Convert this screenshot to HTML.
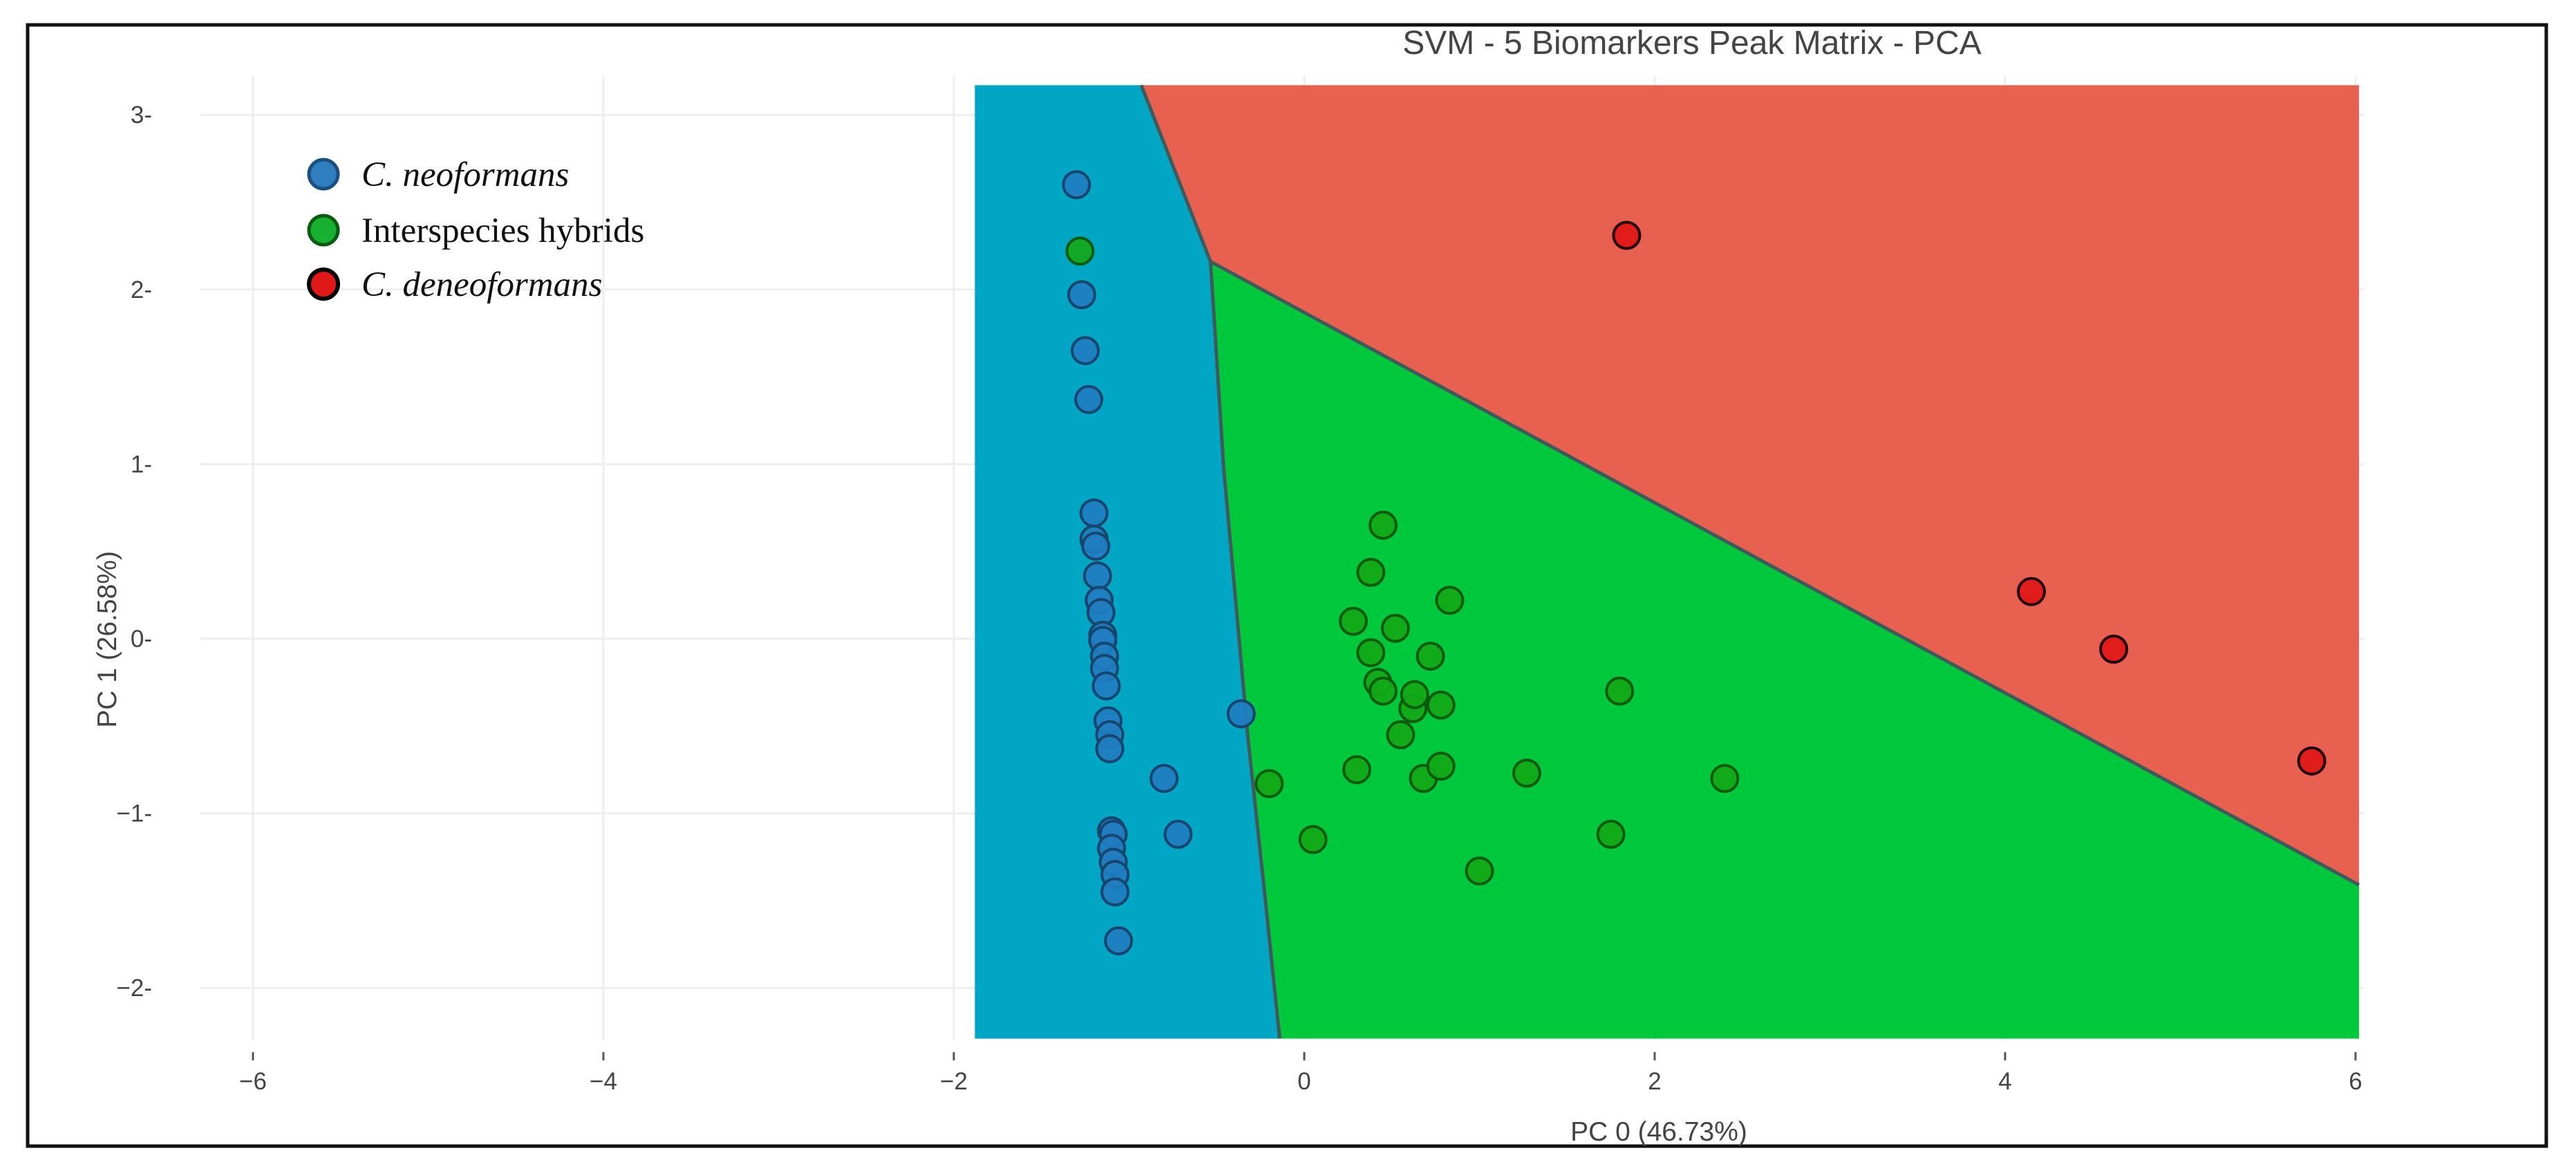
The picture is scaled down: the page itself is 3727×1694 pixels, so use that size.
<!DOCTYPE html>
<html><head><meta charset="utf-8"><style>
html,body{margin:0;padding:0;background:#fff;}
svg{display:block;}
</style></head><body>
<svg id="chart" width="3727" height="1694" viewBox="0 0 3727 1694" xmlns="http://www.w3.org/2000/svg">
<rect x="0" y="0" width="3727" height="1694" fill="#fff"/>
<rect x="40" y="36" width="3644" height="1622" fill="none" stroke="#111" stroke-width="5"/>
<g id="grid"></g>
<g id="regions"></g>
<g id="points"></g>
<g id="axes"></g>
<text x="2448" y="78" font-family="Liberation Sans, sans-serif" font-size="48" fill="#444" text-anchor="middle">SVM - 5 Biomarkers Peak Matrix - PCA</text>
<text x="2400" y="1650" font-family="Liberation Sans, sans-serif" font-size="39" fill="#444" text-anchor="middle">PC 0 (46.73%)</text>
<text transform="translate(168,925) rotate(-90)" font-family="Liberation Sans, sans-serif" font-size="39" fill="#444" text-anchor="middle">PC 1 (26.58%)</text>
<g font-family="Liberation Serif, serif" font-size="51" fill="#111">
<g><circle cx="468" cy="252" r="21" fill="#2f7fc0" stroke="#1a4f80" stroke-width="5"/><text x="523" y="269" font-style="italic">C. neoformans</text></g>
<g><circle cx="468" cy="333" r="21" fill="#18b030" stroke="#0a5a10" stroke-width="5"/><text x="523" y="350">Interspecies hybrids</text></g>
<g><circle cx="468" cy="411" r="21" fill="#e01818" stroke="#000" stroke-width="6"/><text x="523" y="428" font-style="italic">C. deneoformans</text></g>
</g>
</svg>
<script>
const xTicks=[-6,-4,-2,0,2,4,6];
const yTicks=[-2,-1,0,1,2,3];
const blueX=[-1.3,-1.27,-1.25,-1.23,-1.2,-1.2,-1.19,-1.18,-1.17,-1.16,-1.15,-1.15,-1.14,-1.14,-1.13,-1.12,-1.11,-1.11,-1.1,-1.09,-1.1,-1.09,-1.08,-1.08,-1.06,-0.36,-0.8,-0.72];
const blueY=[2.6,1.97,1.65,1.37,0.72,0.57,0.53,0.36,0.22,0.15,0.02,-0.01,-0.1,-0.17,-0.27,-0.47,-0.55,-0.63,-1.1,-1.12,-1.2,-1.28,-1.35,-1.45,-1.73,-0.43,-0.8,-1.12];
const greenX=[-1.28,-0.2,0.05,0.3,0.28,0.38,0.38,0.42,0.45,0.45,0.52,0.55,0.62,0.63,0.68,0.72,0.78,0.78,0.83,1.0,1.27,1.75,1.8,2.4];
const greenY=[2.22,-0.83,-1.15,-0.75,0.1,0.38,-0.08,-0.25,-0.3,0.65,0.06,-0.55,-0.4,-0.32,-0.8,-0.1,-0.38,-0.73,0.22,-1.33,-0.77,-1.12,-0.3,-0.8];
const redX=[1.84,4.15,4.62,5.75];
const redY=[2.31,0.27,-0.06,-0.7];
const regionXmin=-1.88, regionXmax=6.02, regionYmin=-2.29, regionYmax=3.17;
const blueRedBoundaryX=[-0.93,-0.535];
const blueRedBoundaryY=[3.17,2.16];
const blueGreenBoundaryX=[-0.535,-0.46,-0.32,-0.23,-0.14];
const blueGreenBoundaryY=[2.16,0.98,-0.58,-1.42,-2.29];
const redGreenBoundaryX=[-0.535,6.02];
const redGreenBoundaryY=[2.16,-1.41];

const NS='http://www.w3.org/2000/svg';
const X=v=>1887+v*253.5;
const Y=v=>924-v*252.6;
function mk(tag,attrs,parent){const e=document.createElementNS(NS,tag);for(const k in attrs)e.setAttribute(k,attrs[k]);parent.appendChild(e);return e;}
const grid=document.getElementById('grid'),axes=document.getElementById('axes'),reg=document.getElementById('regions'),pts=document.getElementById('points');
const plotL=290,plotR=3420,plotT=110,plotB=1505;
xTicks.forEach(t=>{
 const l=mk('line',{x1:X(t),x2:X(t),y1:plotT,y2:plotB,stroke:'#eeeeee','stroke-width':3},grid);
 
 
 const tk=mk('line',{x1:X(t),x2:X(t),y1:1522,y2:1534,stroke:'#555','stroke-width':3},axes);
 
 
 const tx=mk('text',{x:X(t),y:1576,'font-family':'Liberation Sans, sans-serif','font-size':35,fill:'#444','text-anchor':'middle'},axes);
 tx.textContent=(t<0?'\u2212'+(-t):String(t));
 
 
});
yTicks.forEach(t=>{
 const l=mk('line',{x1:plotL,x2:plotR,y1:Y(t),y2:Y(t),stroke:'#eeeeee','stroke-width':3},grid);
 
 
 const tx=mk('text',{x:220,y:Y(t)+12,'font-family':'Liberation Sans, sans-serif','font-size':35,fill:'#444','text-anchor':'end'},axes);
 tx.textContent=(t<0?'\u2212'+(-t):String(t))+'-';
 
 
});
function poly(pairs,fill,name){
 const p=mk('polygon',{points:pairs.map(q=>X(q[0])+','+Y(q[1])).join(' '),fill:fill},reg);
 
 
}
const bg=blueGreenBoundaryX.map((x,i)=>[x,blueGreenBoundaryY[i]]);
const br=blueRedBoundaryX.map((x,i)=>[x,blueRedBoundaryY[i]]);
const rg=redGreenBoundaryX.map((x,i)=>[x,redGreenBoundaryY[i]]);
poly([[regionXmin,regionYmax],...br,...bg,[regionXmin,regionYmin]],'#00a6c4','region-neoformans');
poly([[br[0][0],regionYmax],[regionXmax,regionYmax],[regionXmax,rg[1][1]],...rg.slice().reverse()],'#e8604f','region-deneoformans');
poly([...bg.slice().reverse(),...rg.slice(1),[regionXmax,regionYmin]].concat([[bg[bg.length-1][0],regionYmin]]),'#00c83c','region-hybrids');
[br,bg,rg].forEach(line=>{
 const pl=mk('polyline',{points:line.map(q=>X(q[0])+','+Y(q[1])).join(' '),fill:'none',stroke:'#3f5a5a','stroke-width':5},reg);
 
 
});
function scatter(xs,ys,fill,stroke,name){
 xs.forEach((x,i)=>{
  const c=mk('circle',{cx:X(x),cy:Y(ys[i]),r:19,fill:fill,stroke:stroke,'stroke-width':4,'fill-opacity':0.92},pts);
  
  
 });
}
scatter(blueX,blueY,'#1f7dc0','#17456e','point-neoformans');
scatter(greenX,greenY,'#12a818','#0b5a0e','point-hybrid');
scatter(redX,redY,'#e01818','#200000','point-deneoformans');
</script>
</body></html>
